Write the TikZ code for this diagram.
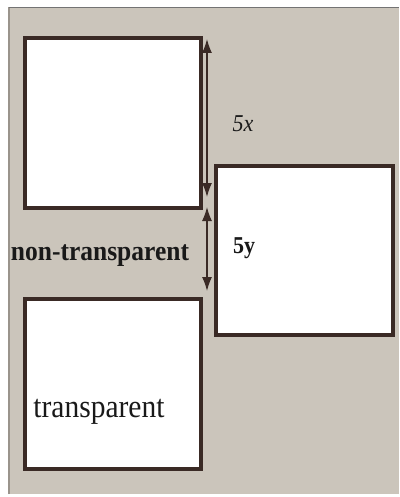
\documentclass[tikz,border=0pt]{standalone}
\usepackage{fontspec}
\setmainfont{Liberation Serif}
\usetikzlibrary{arrows.meta}
\definecolor{bgc}{HTML}{CBC5BB}
\definecolor{edgec}{HTML}{3A2A25}
\definecolor{framec}{HTML}{9A948C}
\tikzset{
  panel/.style={draw=edgec, line width=4pt, fill=white, minimum width=#1, inner sep=0pt, outer sep=0pt},
  dim/.style={draw=edgec, line width=1.3pt, {Latex[length=14pt,width=10pt]}-{Latex[length=14pt,width=10pt]}},
  lbl/.style={inner sep=0pt, text=black!90}
}
\begin{document}
\begin{tikzpicture}[x=1pt,y=-1pt]
\useasboundingbox[fill=white] (0,0) rectangle (399,497);
\fill[bgc] (9,7) rectangle (399,494);
\draw[framec, line width=1.2pt] (9,494) -- (9,7.5);
\draw[black!55, line width=1.6pt] (9,7.5) -- (399,7.5);
\node[panel=176pt, minimum height=169.5pt] (b1) at (112.5,122.75) {};
\node[panel=177pt, minimum height=169.5pt] (b2) at (304,250.25) {};
\node[panel=176pt, minimum height=170pt] (b3) at (112.5,384) {};
\coordinate (a1) at (207,39);
\coordinate (a2) at (207,197);
\coordinate (a3) at (207,207);
\coordinate (a4) at (207,291);
\draw[dim] (a1) -- (a2);
\draw[dim] (a3) -- (a4);
\node[lbl, font=\fontsize{22}{26}\selectfont\itshape, yscale=1.1] (l5x) at (243,124) {5x};
\node[lbl, font=\fontsize{22}{26}\selectfont\bfseries, yscale=1.1] (l5y) at (244,248) {5y};
\node[lbl, font=\fontsize{25.5}{30}\selectfont\bfseries, yscale=1.1] (lnt) at (100,256) {non-transparent};
\node[lbl, font=\fontsize{29.5}{34}\selectfont, yscale=1.1] (lt) at (99,412) {transparent};
\end{tikzpicture}
\end{document}
